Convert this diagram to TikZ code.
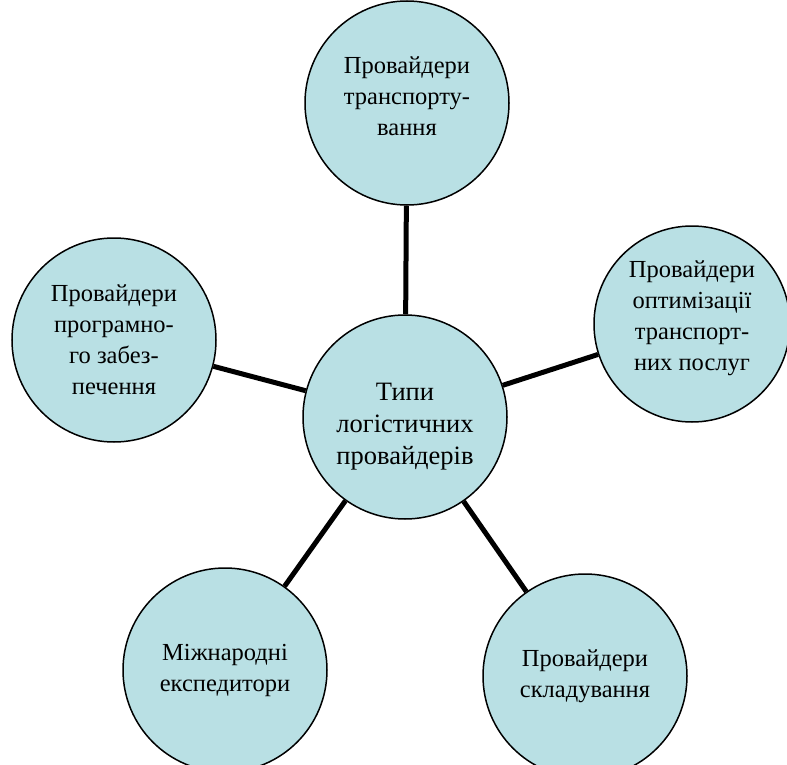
\documentclass[tikz,border=0pt]{standalone}
\usepackage{fontspec}
\setmainfont{Liberation Serif}
\usepackage{xcolor}
\definecolor{kolofill}{RGB}{185,224,228}

\begin{document}
\begin{tikzpicture}[x=1pt, y=-1pt,
  kolo/.style={circle, draw=black, line width=1.5pt, fill=kolofill, minimum size=204pt, inner sep=0pt, align=center, font=\fontsize{24.5}{31}\selectfont},
  zvjazok/.style={black, line width=5pt}]
\useasboundingbox (0,0) rectangle (787,765);
\node[kolo, font=\fontsize{26.5}{32}\selectfont] (typy) at (405,417) {\rule{0pt}{36pt}Типи\\логістичних\\провайдерів};
\node[kolo] (transp) at (407,103) {Провайдери\\транспорту-\\вання\rule[-14pt]{0pt}{0pt}};
\node[kolo, minimum size=196pt] (optym) at (692,324) {Провайдери\\оптимізації\\транспорт-\\них послуг\rule[-16pt]{0pt}{0pt}};
\node[kolo] (prog) at (114,340) {Провайдери\\програмно-\\го забез-\\печення};
\node[kolo] (mizhn) at (225,670) {Міжнародні\\експедитори};
\node[kolo] (skl) at (585,676) {Провайдери\\складування};
\foreach \n in {transp, optym, skl, mizhn, prog}
 \draw[zvjazok] (typy) -- (\n);
\end{tikzpicture}
\end{document}
